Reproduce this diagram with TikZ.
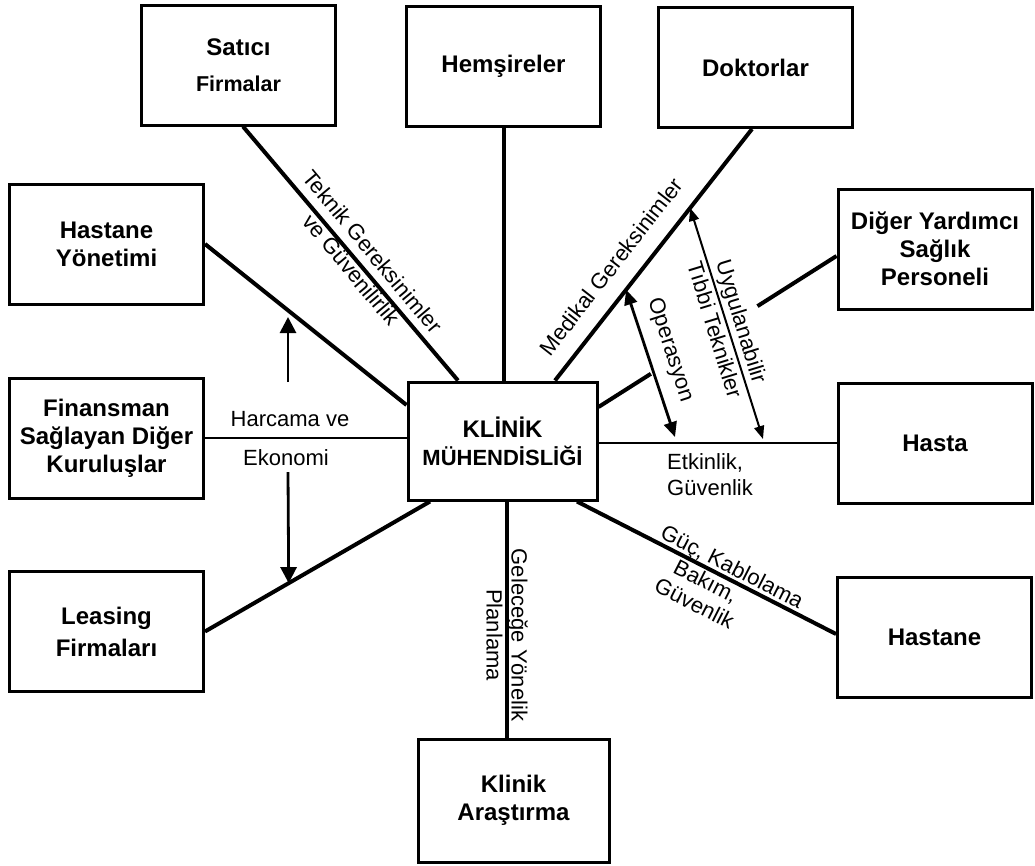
\documentclass[tikz,border=0pt]{standalone}
\usepackage{fontspec}
\setmainfont{Liberation Sans}
\usetikzlibrary{arrows.meta,calc}
\begin{document}
\begin{tikzpicture}[x=1pt,y=-1pt,
  box/.style={draw, line width=3pt, minimum width=194pt, minimum height=120pt,
    inner sep=2pt, align=center, font=\fontsize{24}{28}\selectfont\bfseries},
  link/.style={line width=4pt},
  midlink/.style={line width=2.8pt},
  thinlink/.style={line width=2pt},
  lbl/.style={font=\fontsize{22}{26}\selectfont, inner sep=0pt, align=center},
  lbltwo/.style={font=\fontsize{22}{28}\selectfont, inner sep=0pt, align=center},
  bigtip/.style={-{Triangle[length=16pt,width=16pt]}},
  duotip/.style={{Triangle[length=15pt,width=13pt]}-{Triangle[length=15pt,width=13pt]}},
  slimtip/.style={{Triangle[length=13pt,width=10pt]}-{Triangle[length=13pt,width=10pt]}}
]
\useasboundingbox[fill=white] (0,0) rectangle (1035,865);

% boxes
\node[box] (satici) at (238.5,65) {Satıcı\\[8pt]{\fontsize{21.5}{26}\selectfont Firmalar}};
\node[box] (hemsire) at (503.5,66.5) {Hemşireler};
\node[box] (doktor) at (755.5,67.5) {Doktorlar};
\node[box] (yonetim) at (106.5,244) {Hastane\\Yönetimi};
\node[box] (finans) at (106.5,438) {Finansman\\Sağlayan Diğer\\Kuruluşlar};
\node[box] (leasing) at (106.5,631.5) {Leasing\\[4pt]Firmaları};
\node[box, minimum width=189pt, minimum height=118pt] (klinik) at (502.5,441)
  {KLİNİK\\{\fontsize{22}{25}\selectfont MÜHENDİSLİĞİ}};
\node[box] (diger) at (935,249) {Diğer Yardımcı\\Sağlık\\Personeli};
\node[box] (hasta) at (935,443) {Hasta};
\node[box] (hastane) at (934.5,637) {Hastane};
\node[box, minimum width=191pt, minimum height=123pt] (arastirma) at (513.5,800.5) {Klinik\\Araştırma};

% connectors to the centre
\draw[link] ([xshift=4.5pt]satici.south) coordinate (s1) -- ([xshift=-44.5pt]klinik.north) coordinate (s2);
\draw[link] (hemsire.south) -- (hemsire.south |- klinik.north);
\draw[link] ([xshift=-3.5pt]doktor.south) coordinate (d1) -- ([xshift=52.5pt]klinik.north) coordinate (d2);
\draw[link] (yonetim.east) -- ([yshift=36pt]klinik.west);
\draw[thinlink] (finans.east) -- (finans.east -| klinik.west);
\draw[link] (leasing.east) coordinate (l1) -- ([xshift=-72.5pt]klinik.south) coordinate (l2);
\coordinate (g1) at ([yshift=34pt]klinik.east);
\coordinate (g2) at ([yshift=-7pt]diger.west);
\draw[link] (g1) -- ($(g1)!0.22!(g2)$);
\draw[link] ($(g1)!0.668!(g2)$) -- (g2);
\draw[midlink] (klinik.east |- hasta.west) -- (hasta.west);
\draw[link] ([xshift=74.5pt]klinik.south) -- ([yshift=3pt]hastane.west);
\draw[link] ([xshift=4.5pt]klinik.south) -- ([xshift=4.5pt]klinik.south |- arastirma.north);

% arrows
\coordinate (fu1) at (288,382);
\coordinate (fu2) at (288,317);
\draw[midlink, bigtip] (fu1) -- (fu2);
\coordinate (fd1) at (288,472);
\draw[midlink, bigtip] (fd1) -- ($(l1)!0.372!(l2)$);
\coordinate (op2) at (675,437);
\draw[midlink, duotip] ($(d1)!0.639!(d2)$) -- (op2);
\coordinate (uy2) at (763,439);
\draw[thinlink, slimtip] ($(d1)!0.314!(d2)$) -- (uy2);

% labels
\node[lbltwo, rotate=-50] at ($(s1)!0.54!(s2)+(3,-3)$) {Teknik Gereksinimler\\ve Güvenilirlik};
\node[lbl, rotate=52] at (611,266.5) {Medikal Gereksinimler};
\node[lbl, rotate=-72] at (670,350) {Operasyon};
\node[lbltwo, rotate=-73] at (728.5,325.5) {Uygulanabilir\\Tıbbi Teknikler};
\node[lbl] at (290,419) {Harcama ve};
\node[lbl] at (286,458) {Ekonomi};
\node[lbl, align=left, anchor=west] at (667,475) {Etkinlik,\\Güvenlik};
\node[lbl, rotate=-27, font=\fontsize{22}{25}\selectfont] at (706,581)
  {\hspace*{34pt}Güç, Kablolama\\Bakım,\\Güvenlik};
\node[lbl, rotate=-90, font=\fontsize{22}{25}\selectfont] at (507,635) {Geleceğe Yönelik\\Planlama};
\end{tikzpicture}
\end{document}
